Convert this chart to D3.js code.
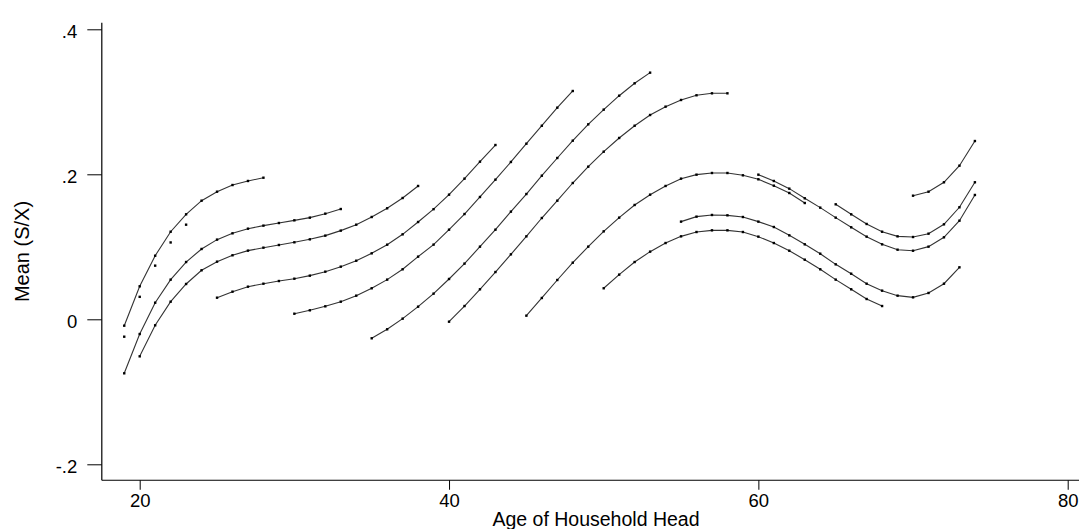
<!DOCTYPE html>
<!-- cohort profiles of mean saving rate by age of household head -->
<html>
<head>
<meta charset="utf-8">
<style>
  body { margin: 0; background: #fff; }
  text { font-family: "Liberation Sans", Arial, sans-serif; fill: #000; }
</style>
</head>
<body>
<div id="graph_div"></div>

<script src="https://d3js.org/d3.v7.min.js"></script>

<script>

// tick values and labels
let x_ticks = [20, 40, 60, 80];
let y_ticks = [-0.2, 0, 0.2, 0.4];
let y_tick_labels = ["-.2", "0", ".2", ".4"];

// first age of each cohort line
let start_ages = [19, 19, 19, 20, 25, 30, 35, 40, 45, 50, 55, 60, 65, 70];
// true = line with markers, false = markers only
let has_line = [false, true, true, true, true, true, true, true, true, true, true, true, true, true];

// mean S/X by single year of age, one array per cohort
let cohort_dots = [-0.024, 0.031, 0.074, 0.106, 0.1305];
let cohort_a = [-0.0088, 0.0455, 0.0877, 0.1208, 0.1448, 0.1636, 0.176, 0.1852, 0.1908, 0.1953];
let cohort_b = [-0.0745, -0.0203, 0.0229, 0.0547, 0.079, 0.097, 0.1099, 0.1186, 0.125, 0.1292,
                0.1328, 0.1365, 0.1402, 0.1457, 0.1521];
let cohort_c = [-0.0511, -0.0083, 0.0243, 0.0487, 0.0676, 0.0795, 0.0883, 0.0947, 0.0988, 0.1025,
                0.1062, 0.1103, 0.1154, 0.1223, 0.1305, 0.1411, 0.1531, 0.1673, 0.1839];
let cohort_d = [0.0298, 0.0381, 0.045, 0.0491, 0.0528, 0.056, 0.0602, 0.0657, 0.0726, 0.0808,
                0.091, 0.1029, 0.1172, 0.1342, 0.1519, 0.1719, 0.194, 0.2174, 0.2404];
let cohort_e = [0.0077, 0.0124, 0.0179, 0.0243, 0.0326, 0.0428, 0.0547, 0.069, 0.0864, 0.103,
                0.1236, 0.1452, 0.1687, 0.1926, 0.217, 0.2422, 0.267, 0.2919, 0.3149];
let cohort_f = [-0.0262, -0.0138, 0.0009, 0.0174, 0.0354, 0.0556, 0.0768, 0.1002, 0.1236, 0.1485,
                0.1728, 0.1981, 0.2225, 0.2464, 0.2689, 0.2892, 0.3084, 0.3255, 0.3402];
let cohort_g = [-0.0033, 0.0183, 0.0414, 0.0652, 0.0896, 0.1144, 0.1397, 0.1636, 0.188, 0.2105,
                0.2312, 0.2501, 0.267, 0.2818, 0.2933, 0.3025, 0.309, 0.3117, 0.3117];
let cohort_h = [0.005, 0.0294, 0.0542, 0.0781, 0.1002, 0.1213, 0.1402, 0.1577, 0.1719, 0.1839,
                0.194, 0.1995, 0.2018, 0.2018, 0.1986, 0.1931, 0.1843, 0.1742, 0.1604];
let cohort_i = [0.0428, 0.0616, 0.079, 0.0933, 0.1052, 0.1144, 0.1204, 0.1227, 0.1227, 0.1204,
                0.114, 0.1052, 0.0946, 0.0822, 0.069, 0.0547, 0.0414, 0.028, 0.0183];
let cohort_j = [0.1347, 0.1416, 0.1439, 0.1434, 0.1411, 0.1347, 0.1273, 0.1158, 0.1034, 0.0905,
                0.0758, 0.0629, 0.0491, 0.0395, 0.0326, 0.0303, 0.0363, 0.0491, 0.0717];
let cohort_k = [0.1995, 0.1908, 0.1802, 0.1669, 0.154, 0.1402, 0.1269, 0.114, 0.1034, 0.096,
                0.0946, 0.1002, 0.1131, 0.136, 0.1715];
let cohort_l = [0.1586, 0.1448, 0.1315, 0.1208, 0.1144, 0.1135, 0.1181, 0.131, 0.1545, 0.189];
let cohort_m = [0.1705, 0.176, 0.189, 0.2119, 0.2459];

let cohort_values = [cohort_dots, cohort_a, cohort_b, cohort_c, cohort_d, cohort_e, cohort_f,
                     cohort_g, cohort_h, cohort_i, cohort_j, cohort_k, cohort_l, cohort_m];

let width = 1079, height = 529;

let graph_obj = d3.select("#graph_div")
  .append("svg")
    .attr("width", width)
    .attr("height", height);

// scales, axes drawn from plot region extents
let x_extent = [17.55, 80.8];
let y_extent = [-0.222, 0.409];

let x = d3.scaleLinear()
  .domain([20, 80])
  .range([139.7, 1067.7]);

let y = d3.scaleLinear()
  .domain([-0.2, 0.4])
  .range([464.3, 29.3]);

// y axis
let y_axis = graph_obj.append("g")
  .attr("transform", "translate(" + x(x_extent[0]) + ",0)")
  .call(d3.axisLeft(y)
    .tickValues(y_ticks)
    .tickFormat(function(d, i) { return y_tick_labels[i]; })
    .tickSize(14.5)
    .tickPadding(10)
    .tickSizeOuter(0));
y_axis.select(".domain").remove();
y_axis.selectAll("line").attr("stroke", "#000");
y_axis.selectAll("text")
  .attr("dy", "0.46em")
  .style("font-size", "18.5px")
  .style("font-family", "Liberation Sans, Arial, sans-serif");

// x axis
let x_axis = graph_obj.append("g")
  .attr("transform", "translate(0," + y(y_extent[0]) + ")")
  .call(d3.axisBottom(x)
    .tickValues(x_ticks)
    .tickFormat(d3.format("d"))
    .tickSize(9.5)
    .tickPadding(4)
    .tickSizeOuter(0));
x_axis.select(".domain").remove();
x_axis.selectAll("line").attr("stroke", "#000");
x_axis.selectAll("text")
  .style("font-size", "18.5px")
  .style("font-family", "Liberation Sans, Arial, sans-serif");

// axis lines
graph_obj.append("line")
  .attr("x1", x(x_extent[0])).attr("x2", x(x_extent[0]))
  .attr("y1", y(y_extent[1])).attr("y2", y(y_extent[0]))
  .attr("stroke", "#000").attr("stroke-width", 1.2);
graph_obj.append("line")
  .attr("x1", x(x_extent[0])).attr("x2", x(x_extent[1]))
  .attr("y1", y(y_extent[0])).attr("y2", y(y_extent[0]))
  .attr("stroke", "#000").attr("stroke-width", 1.2);

// titles
graph_obj.append("text")
  .attr("x", 596)
  .attr("y", 526)
  .attr("text-anchor", "middle")
  .style("font-size", "19.5px")
  .text("Age of Household Head");

graph_obj.append("text")
  .attr("transform", "translate(29," + ((y(y_extent[0]) + y(y_extent[1])) / 2) + ") rotate(-90)")
  .attr("text-anchor", "middle")
  .style("font-size", "20px")
  .text("Mean (S/X)");

// build the cohort series
let series = cohort_values.map(function(vals, i) {
  return {
    line: has_line[i],
    points: vals.map(function(v, j) { return {age: start_ages[i] + j, value: v}; })
  };
});

let line_gen = d3.line()
  .x(function(d) { return x(d.age); })
  .y(function(d) { return y(d.value); });

let plot = graph_obj.append("g").attr("id", "cohorts");

plot.selectAll(".cohort_line")
  .data(series.filter(function(s) { return s.line; }))
  .enter()
  .append("path")
    .attr("class", "cohort_line")
    .attr("d", function(s) { return line_gen(s.points); })
    .attr("fill", "none")
    .attr("stroke", "#333")
    .attr("stroke-width", 1.1);

let all_points = series.reduce(function(acc, s) { return acc.concat(s.points); }, []);

plot.selectAll(".data_point")
  .data(all_points)
  .enter()
  .append("rect")
    .attr("class", "data_point")
    .attr("x", function(d) { return x(d.age) - 1.2; })
    .attr("y", function(d) { return y(d.value) - 1.2; })
    .attr("width", 2.4)
    .attr("height", 2.4)
    .attr("fill", "#000");

</script>
</body>
</html>
